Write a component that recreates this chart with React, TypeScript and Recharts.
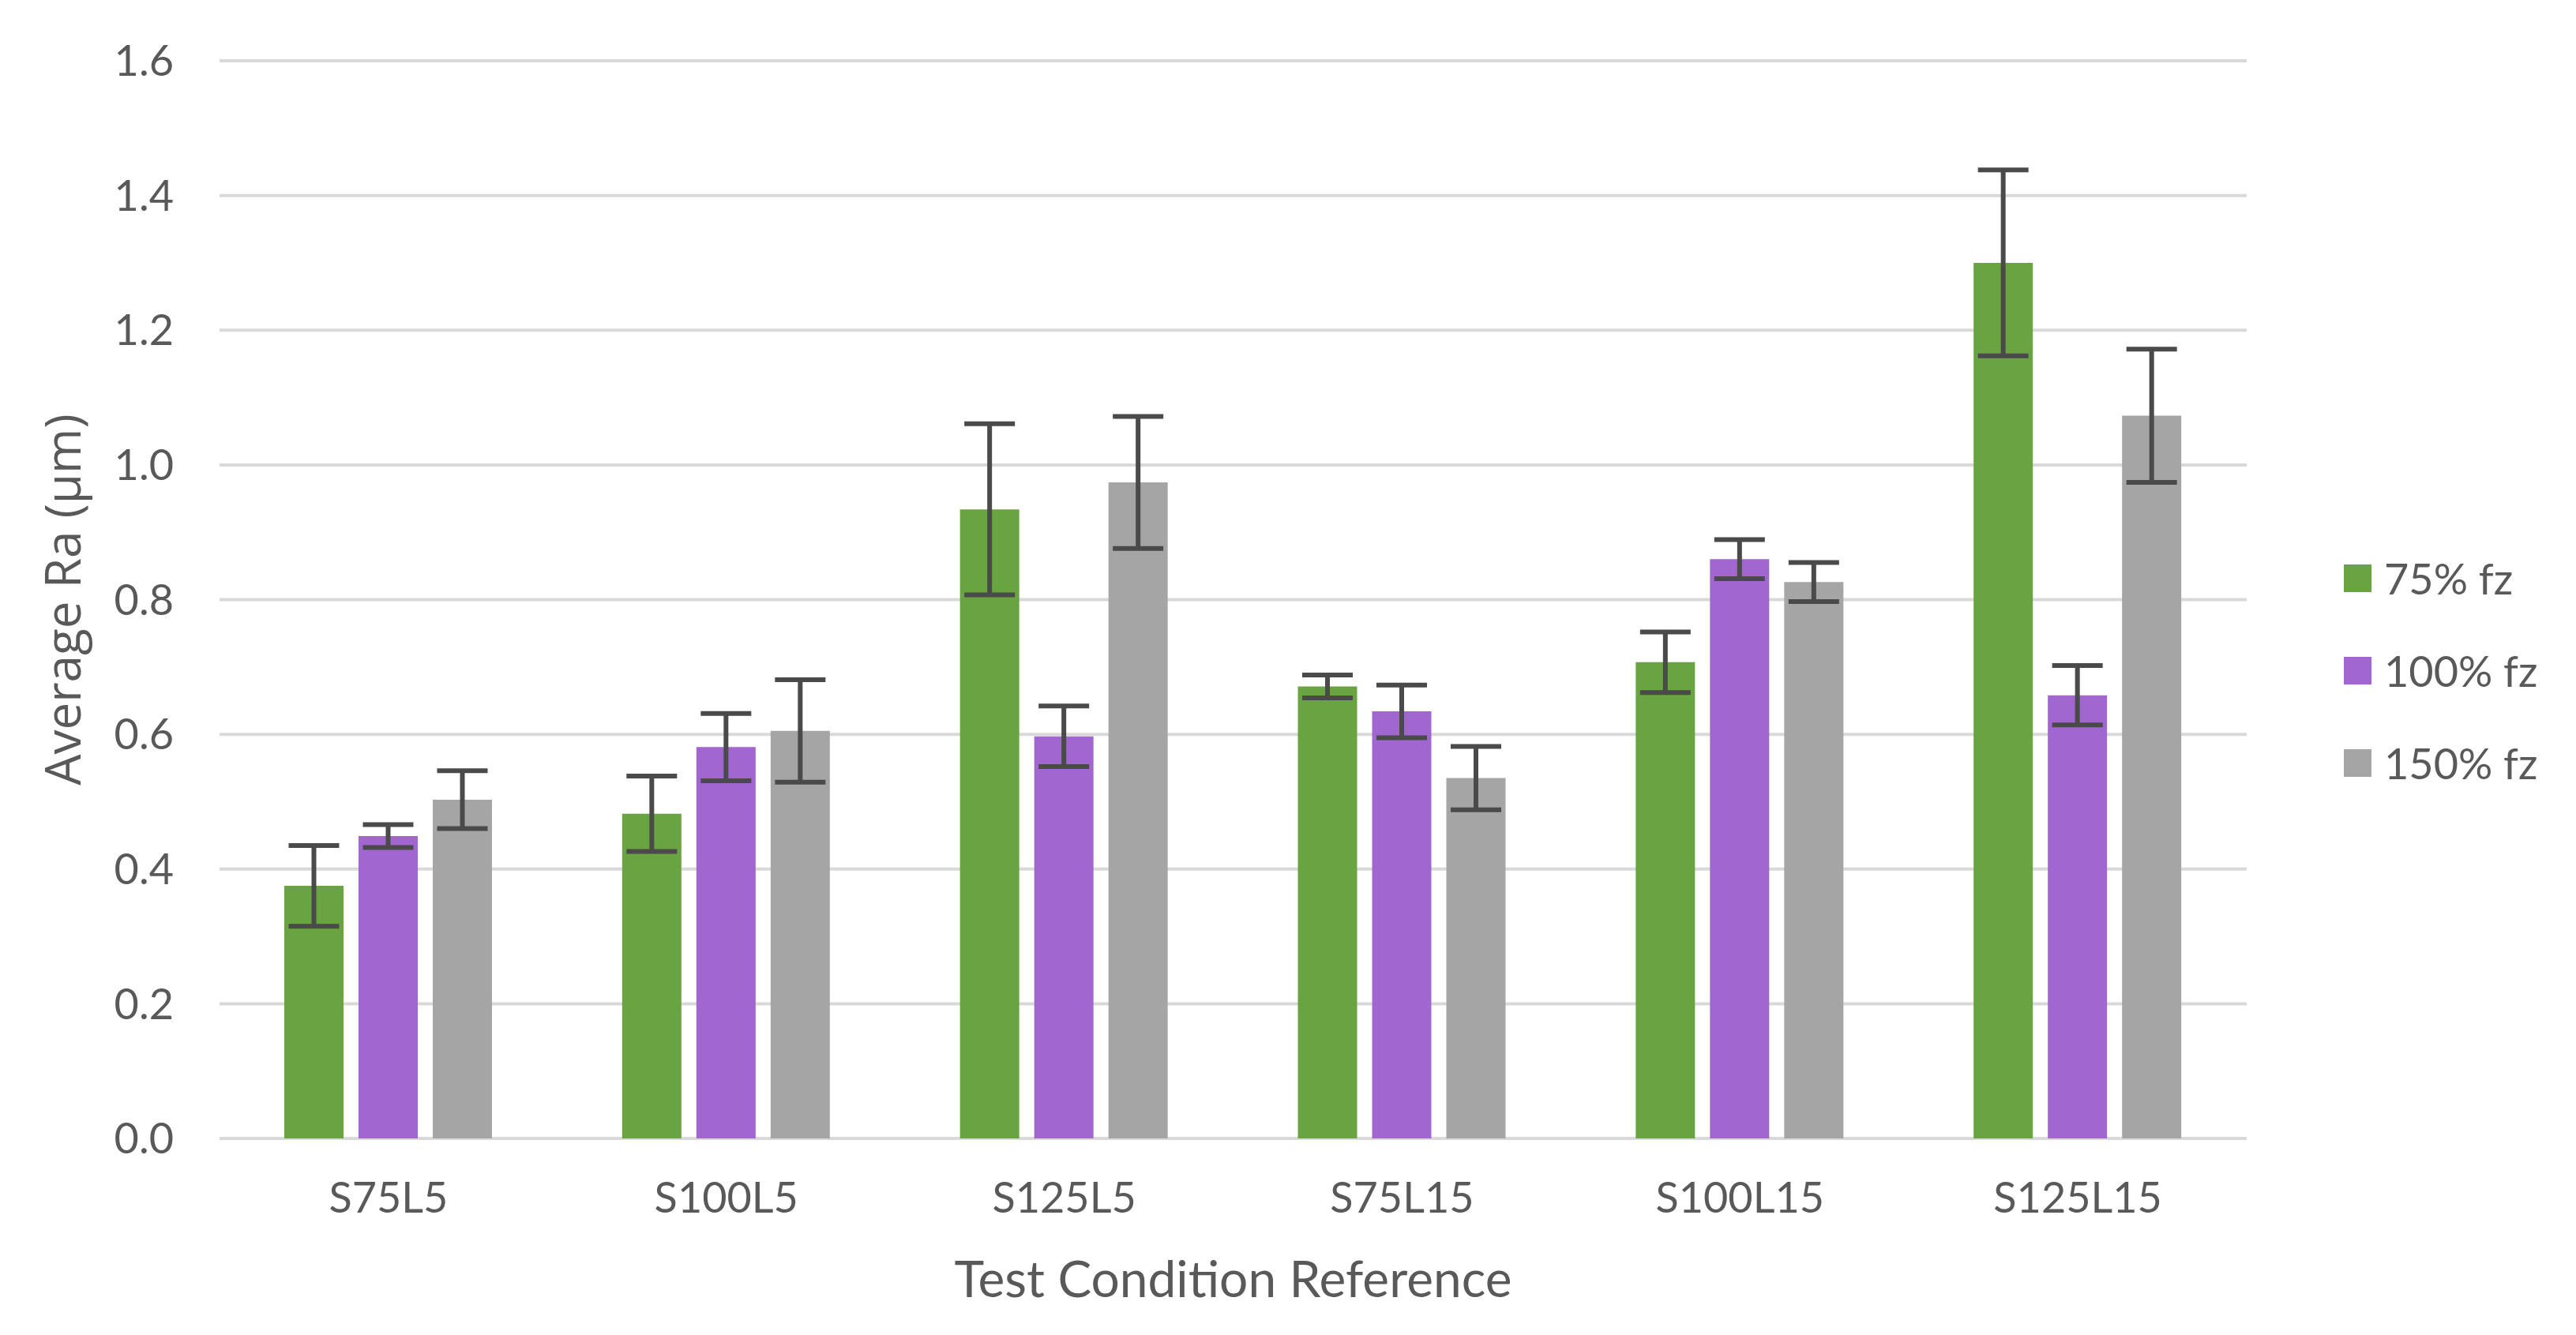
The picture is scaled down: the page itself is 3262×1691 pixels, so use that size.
import React from 'react';
import { BarChart, Bar, XAxis, YAxis, CartesianGrid, ErrorBar, Legend } from 'recharts';

const categories = ['S75L5', 'S100L5', 'S125L5', 'S75L15', 'S100L15', 'S125L15'];
const fz75 = [0.375, 0.482, 0.934, 0.671, 0.707, 1.3];
const fz75Err = [0.06, 0.056, 0.127, 0.017, 0.045, 0.138];
const fz100 = [0.449, 0.581, 0.597, 0.634, 0.86, 0.658];
const fz100Err = [0.017, 0.05, 0.045, 0.039, 0.029, 0.044];
const fz150 = [0.503, 0.605, 0.974, 0.535, 0.826, 1.073];
const fz150Err = [0.043, 0.076, 0.098, 0.047, 0.029, 0.099];
const yTicks = [0, 0.2, 0.4, 0.6, 0.8, 1.0, 1.2, 1.4, 1.6];

const series = [
  { key: 'fz75', err: 'fz75Err', name: '75% fz', color: '#6aa341' },
  { key: 'fz100', err: 'fz100Err', name: '100% fz', color: '#a266d0' },
  { key: 'fz150', err: 'fz150Err', name: '150% fz', color: '#a5a5a5' },
];

const data = categories.map((c, i) => ({
  name: c,
  fz75: fz75[i], fz75Err: fz75Err[i],
  fz100: fz100[i], fz100Err: fz100Err[i],
  fz150: fz150[i], fz150Err: fz150Err[i],
}));

const textColor = '#595959';
const tickFont = { fill: textColor, fontSize: 54, fontFamily: 'Lato' };

// keep the legend in series order (recharts sorts by name otherwise)
const seriesOrder = (p: any) => series.findIndex((s) => s.name === p.value);

function LegendBox({ payload }: any) {
  const items = [...(payload || [])].sort((a, b) => seriesOrder(a) - seriesOrder(b));
  return (
    <div style={{ fontFamily: 'Lato', fontSize: 54, color: textColor }}>
      {items.map((p: any) => (
        <div key={p.value} style={{ display: 'flex', alignItems: 'center', height: 117 }}>
          <div style={{ width: 35, height: 35, background: p.color, marginRight: 16 }} />
          <span>{p.value}</span>
        </div>
      ))}
    </div>
  );
}

export default function App() {
  return (
    <div style={{ position: 'absolute', left: 0, top: 0, width: 3262, height: 1691, background: '#fff' }}>
      <BarChart
        width={3262}
        height={1691}
        data={data}
        margin={{ top: 77, right: 417, bottom: 0, left: 0 }}
        barSize={75}
        barGap={19}
      >
        <CartesianGrid vertical={false} stroke="#d9d9d9" strokeWidth={4} />
        <XAxis
          dataKey="name"
          height={249}
          axisLine={false}
          tickLine={false}
          tickSize={0}
          tickMargin={56}
          tick={tickFont}
          label={{
            content: ({ viewBox }: any) => (
              <text
                x={viewBox.x + viewBox.width / 2}
                y={viewBox.y + 201}
                textAnchor="middle"
                fill={textColor}
                fontSize={64}
                fontFamily="Lato"
              >
                Test Condition Reference
              </text>
            ),
          }}
        />
        <YAxis
          width={278}
          domain={[0, 1.6]}
          ticks={yTicks}
          interval={0}
          axisLine={false}
          tickLine={false}
          tickSize={0}
          tickMargin={58}
          tick={tickFont}
          tickFormatter={(v: number) => v.toFixed(1)}
          label={{
            content: ({ viewBox }: any) => {
              const cy = viewBox.y + viewBox.height / 2;
              return (
                <text
                  x={102}
                  y={cy}
                  transform={`rotate(-90, 102, ${cy})`}
                  textAnchor="middle"
                  fill={textColor}
                  fontSize={62}
                  fontFamily="Open Sans"
                >
                  Average Ra (µm)
                </text>
              );
            },
          }}
        />
        <Legend
          layout="vertical"
          align="center"
          verticalAlign="middle"
          content={<LegendBox />}
          wrapperStyle={{ left: 2968, top: 674, width: 294 }}
        />
        {series.map((s) => (
          <Bar key={s.key} dataKey={s.key} name={s.name} fill={s.color} isAnimationActive={false}>
            <ErrorBar dataKey={s.err} direction="y" width={32} strokeWidth={6} stroke="#4a4a4a" />
          </Bar>
        ))}
      </BarChart>
    </div>
  );
}
